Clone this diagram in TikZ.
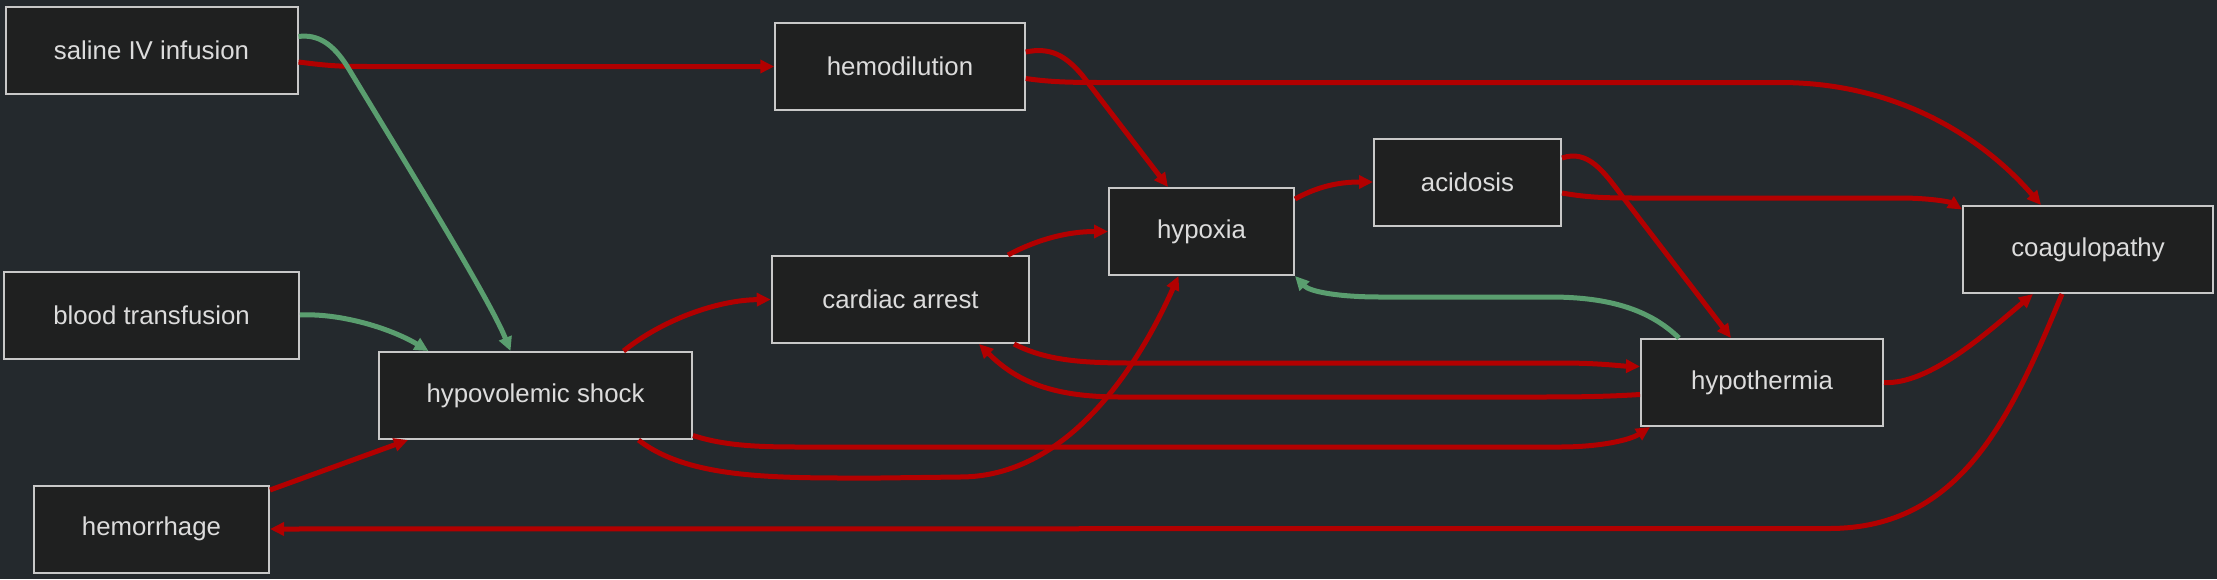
\documentclass[tikz,border=0pt]{standalone}
\usepackage{fontspec}
\setmainfont{Liberation Sans}
\usetikzlibrary{arrows.meta}
\definecolor{bgc}{RGB}{36,41,45}
\definecolor{nodefill}{RGB}{31,32,32}
\definecolor{nodeborder}{RGB}{200,200,200}
\definecolor{txtc}{RGB}{220,220,220}
\definecolor{redc}{RGB}{178,0,0}
\definecolor{greenc}{RGB}{90,158,111}
\tikzset{
  box/.style={draw=nodeborder, fill=nodefill, line width=2pt, inner sep=0pt,
    minimum height=87pt, text=txtc, font=\fontsize{25.8}{30}\selectfont, anchor=center},
  rededge/.style={draw=redc, line width=5pt, -{Triangle[length=14pt,width=13pt]}},
  greenedge/.style={draw=greenc, line width=5pt, -{Triangle[length=14pt,width=13pt]}}
}
\begin{document}
\begin{tikzpicture}[x=1pt,y=-1pt]
\useasboundingbox (0,0) rectangle (2217,579);
\fill[bgc] (0,0) rectangle (2217,579);

\node[box, minimum width=292pt] (saline) at (151.5,50.5) {saline IV infusion};
\node[box, minimum width=295pt] (blood) at (151.5,315) {blood transfusion};
\node[box, minimum width=235pt] (hemorrhage) at (151.5,529) {hemorrhage};
\node[box, minimum width=313pt] (shock) at (535.5,395.5) {hypovolemic shock};
\node[box, minimum width=249.5pt] (hemodil) at (900,66.5) {hemodilution};
\node[box, minimum width=257.5pt] (cardiac) at (900.5,299.5) {cardiac arrest};
\node[box, minimum width=185pt] (hypoxia) at (1201.5,231.5) {hypoxia};
\node[box, minimum width=187pt] (acidosis) at (1467.5,182) {acidosis};
\node[box, minimum width=242pt] (hypothermia) at (1762,382.5) {hypothermia};
\node[box, minimum width=250pt] (coag) at (2088,249.5) {coagulopathy};

% saline -> hemodilution
\draw[rededge] ([shift={(0,11.5)}]saline.east) .. controls (330,66) and (340,66.5) .. (370,66.5) -- (hemodil.west);
% saline -> shock
\draw[greenedge] ([shift={(0,-14)}]saline.east) .. controls (318,34) and (333,44) .. (347,66)
  .. controls (410,170) and (490,300) .. ([shift={(-25,0)}]shock.north);
% blood -> shock
\draw[greenedge] (blood.east) .. controls (340,313) and (390,328) .. ([shift={(-107,0)}]shock.north);
% hemorrhage -> shock
\draw[rededge] ([shift={(0,-39)}]hemorrhage.east) -- ([shift={(-127.5,0)}]shock.south);
% shock -> cardiac
\draw[rededge] ([shift={(88,0)}]shock.north) .. controls (665,318) and (720,300) .. (cardiac.west);
% shock -> hypothermia
\draw[rededge] ([shift={(0,40)}]shock.east) .. controls (725,446) and (760,447) .. (800,447) -- (1560,447)
  .. controls (1600,447) and (1630,440) .. ([shift={(-112,0)}]hypothermia.south);
% shock -> hypoxia
\draw[rededge] ([shift={(103,0)}]shock.south) .. controls (690,480) and (780,478) .. (880,478) -- (960,477)
  .. controls (1080,477) and (1150,340) .. ([shift={(-23,0)}]hypoxia.south);
% hemodilution -> hypoxia
\draw[rededge] ([shift={(0,-14.5)}]hemodil.east) .. controls (1050,47) and (1065,55) .. (1082,75)
  -- ([shift={(-33.5,0)}]hypoxia.north);
% hemodilution -> coagulopathy
\draw[rededge] ([shift={(0,12)}]hemodil.east) .. controls (1050,82) and (1070,82.5) .. (1100,82.5) -- (1780,82.5)
  .. controls (1900,82.5) and (1985,140) .. ([shift={(-47,0)}]coag.north);
% cardiac -> hypoxia
\draw[rededge] ([shift={(107.5,0)}]cardiac.north) .. controls (1040,238) and (1070,231.5) .. (hypoxia.west);
% cardiac -> hypothermia
\draw[rededge] ([shift={(113.5,0)}]cardiac.south) .. controls (1045,360) and (1080,363) .. (1130,363) -- (1560,363)
  .. controls (1600,363) and (1620,366) .. ([shift={(0,-16)}]hypothermia.west);
% hypothermia -> cardiac
\draw[rededge] ([shift={(0,12)}]hypothermia.west) .. controls (1600,397) and (1570,397) .. (1530,397) -- (1120,397)
  .. controls (1050,397) and (1015,380) .. ([shift={(78.5,0)}]cardiac.south);
% hypoxia -> acidosis
\draw[rededge] ([shift={(0,-32.5)}]hypoxia.east) .. controls (1322,184) and (1345,182) .. (acidosis.west);
% acidosis -> coagulopathy
\draw[rededge] ([shift={(0,11)}]acidosis.east) .. controls (1590,198) and (1610,198) .. (1640,198) -- (1900,198)
  .. controls (1930,198) and (1950,202) .. ([shift={(0,-40)}]coag.west);
% acidosis -> hypothermia
\draw[rededge] ([shift={(0,-24)}]acidosis.east) .. controls (1588,149) and (1604,172) .. (1622,196)
  -- ([shift={(-31,0)}]hypothermia.north);
% hypothermia -> hypoxia
\draw[greenedge] ([shift={(-83,0)}]hypothermia.north) .. controls (1650,310) and (1610,297) .. (1550,297) -- (1380,297)
  .. controls (1340,297) and (1310,292) .. (hypoxia.south east);
% hypothermia -> coagulopathy
\draw[rededge] (hypothermia.east) .. controls (1930,385) and (1990,330) .. ([shift={(-55,0)}]coag.south);
% coagulopathy -> hemorrhage
\draw[rededge] ([shift={(-26,0)}]coag.south) .. controls (2010,420) and (1960,528) .. (1830,528.5) -- (hemorrhage.east);
\end{tikzpicture}
\end{document}
